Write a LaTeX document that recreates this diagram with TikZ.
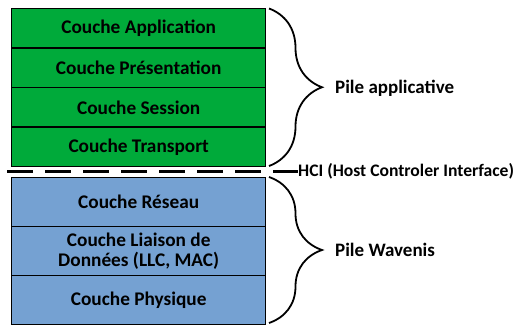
\documentclass[tikz,border=0pt]{standalone}
\usepackage{fontspec}
\setmainfont{Carlito}
\usetikzlibrary{decorations.pathreplacing}
\definecolor{layergreen}{RGB}{0,170,58}
\definecolor{layerblue}{RGB}{117,161,210}
\tikzset{
  layer/.style={draw=black, line width=1.4pt, anchor=north west, inner sep=0pt,
    minimum width=254pt, align=center, font=\fontsize{19.3}{20.5}\selectfont\bfseries},
  glayer/.style={layer, fill=layergreen, minimum height=39.5pt},
  blayer/.style={layer, fill=layerblue, minimum height=49pt},
  bracestyle/.style={draw=black, line width=1.8pt, decorate,
    decoration={brace, amplitude=53pt}},
  lbl/.style={anchor=west, inner sep=0pt, font=\fontsize{19}{21}\selectfont\bfseries},
}
\begin{document}
\begin{tikzpicture}[x=1pt, y=-1pt]
\useasboundingbox (0,0) rectangle (514,326);
\node[glayer] (app) at (11,8) {Couche Application};
\node[glayer] (pres) at (11,47.5) {Couche Présentation};
\node[glayer] (sess) at (11,87) {Couche Session};
\node[glayer] (trans) at (11,126.5) {Couche Transport};
\node[blayer] (res) at (11,177) {Couche Réseau};
\node[blayer] (liai) at (11,226) {Couche Liaison de\\Données (LLC, MAC)};
\node[blayer] (phys) at (11,275) {Couche Physique};
% dashed separator
\coordinate (dl) at (7,171.5);
\node[lbl, font=\fontsize{17.6}{19}\selectfont\bfseries] (hci) at (298,171.5) {HCI (Host Controler Interface)};
\draw[line width=2.6pt, dash pattern=on 26pt off 12pt] (dl) -- (hci.west);
% braces
\coordinate (b1s) at (269,8.5);
\coordinate (b1e) at (269,166);
\coordinate (b2s) at (269,177);
\coordinate (b2e) at (269,323);
\draw[bracestyle] (b1s) -- (b1e);
\draw[bracestyle] (b2s) -- (b2e);
\node[lbl] (pa) at (335,88) {Pile applicative};
\node[lbl] (pw) at (335,250) {Pile Wavenis};
\end{tikzpicture}
\end{document}
